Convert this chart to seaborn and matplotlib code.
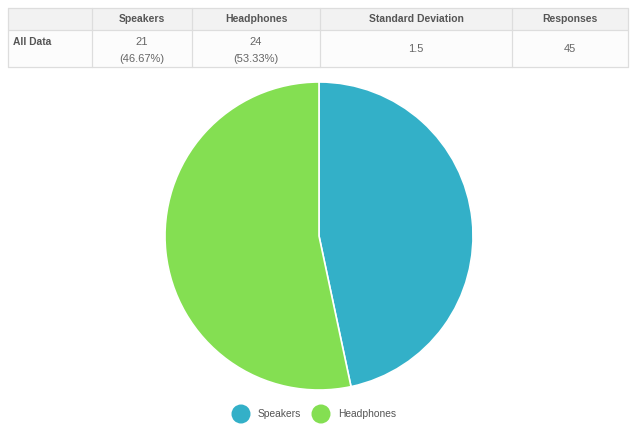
import matplotlib
matplotlib.use("Agg")
import matplotlib.pyplot as plt
from matplotlib.patches import Rectangle, Circle
import seaborn as sns

# ---- data ----
categories = ["Speakers", "Headphones"]
counts = [21, 24]
percent_labels = ["(46.67%)", "(53.33%)"]
row_label = "All Data"
header_labels = ["", "Speakers", "Headphones", "Standard Deviation", "Responses"]
std_dev = "1.5"
responses = "45"
colors = ["#33b0c8", "#84df52"]

sns.set_theme(style="white")
plt.rcParams["font.family"] = ["Liberation Sans", "DejaVu Sans"]

W, H = 640, 442
fig = plt.figure(figsize=(W / 100, H / 100), dpi=100)
fig.patch.set_facecolor("white")

# ---- table axes in pixel coords ----
tab = fig.add_axes([0, 0, 1, 1])
tab.set_xlim(0, W)
tab.set_ylim(H, 0)
tab.axis("off")

col_edges = [8, 92, 192, 320, 512, 628]
row_edges = [8, 30, 67]
border = "#dddddd"
tab.add_patch(Rectangle((col_edges[0], row_edges[0]), col_edges[-1] - col_edges[0],
                        row_edges[1] - row_edges[0], facecolor="#f2f2f2", edgecolor="none"))
tab.add_patch(Rectangle((col_edges[0], row_edges[1]), col_edges[-1] - col_edges[0],
                        row_edges[2] - row_edges[1], facecolor="#fcfcfc", edgecolor="none"))
for x in col_edges:
    tab.plot([x, x], [row_edges[0], row_edges[-1]], color=border, lw=0.9)
for y in row_edges:
    tab.plot([col_edges[0], col_edges[-1]], [y, y], color=border, lw=0.9)

hdr_color = "#555555"
txt_color = "#666666"
fs_hdr = 7.5
fs = 8.0
for i, lab in enumerate(header_labels):
    if lab:
        cx = (col_edges[i] + col_edges[i + 1]) / 2
        tab.text(cx, 19.5, lab, ha="center", va="center", fontsize=fs_hdr,
                 fontweight="bold", color=hdr_color)

tab.text(13, 42, row_label, ha="left", va="center", fontsize=7.4,
         fontweight="bold", color=hdr_color)
for i, (c, p) in enumerate(zip(counts, percent_labels)):
    cx = (col_edges[i + 1] + col_edges[i + 2]) / 2
    tab.text(cx, 42, str(c), ha="center", va="center", fontsize=fs, color=txt_color)
    tab.text(cx, 58.5, p, ha="center", va="center", fontsize=fs, color=txt_color)
tab.text((col_edges[3] + col_edges[4]) / 2, 49, std_dev, ha="center", va="center",
         fontsize=fs, color=txt_color)
tab.text((col_edges[4] + col_edges[5]) / 2, 49, responses, ha="center", va="center",
         fontsize=fs, color=txt_color)

# ---- pie ----
cx, cy, r = 319, 236, 154
ax = fig.add_axes([(cx - r) / W, (H - cy - r) / H, 2 * r / W, 2 * r / H])
ax.pie(counts, colors=colors, startangle=90, counterclock=False,
       wedgeprops=dict(edgecolor="white", linewidth=1.2))
ax.set_xlim(-1, 1)
ax.set_ylim(-1, 1)
ax.set_aspect("equal")
ax.axis("off")

# ---- legend ----
legend_x = [241, 321]
for i, (lab, col) in enumerate(zip(categories, colors)):
    tab.add_patch(Circle((legend_x[i], 414), 9.5, facecolor=col, edgecolor="none"))
    tab.text(legend_x[i] + 17, 414, lab, ha="left", va="center", fontsize=7.4,
             color="#555555")

fig.savefig("out.png", dpi=100, facecolor="white")
